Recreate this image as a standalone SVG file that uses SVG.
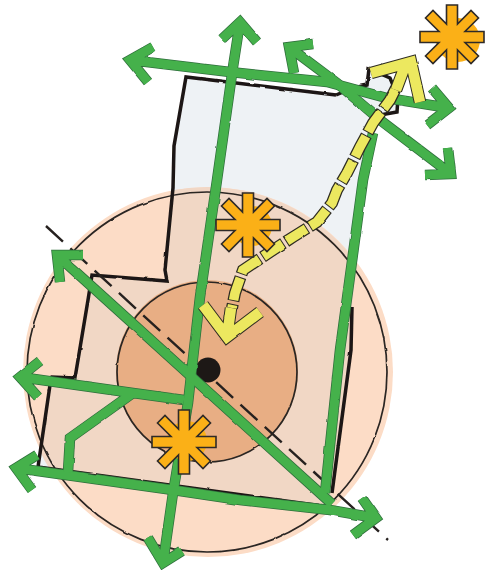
<svg xmlns="http://www.w3.org/2000/svg" xmlns:xlink="http://www.w3.org/1999/xlink" width="489" height="570" viewBox="0 0 489 570">
<style>
.blk{fill:none;stroke:#1d1613;stroke-width:3.5;stroke-linejoin:miter}
.thin{fill:none;stroke:#2a2523;stroke-width:1.7}
.gu{fill:none;stroke:#2f6e3c;stroke-width:10.5;stroke-linejoin:miter}
.g{fill:none;stroke:#45b14b;stroke-width:9;stroke-linejoin:miter}
.star{fill:#fbb017;stroke:#2e2a28;stroke-width:1.6;stroke-linejoin:miter}
.blob{fill:#fbb017}
.yu{fill:none;stroke:#2e2c22;stroke-width:12;stroke-linejoin:miter}
.y{fill:none;stroke:#ece85f;stroke-width:9.5;stroke-linejoin:miter}
.yw{fill:none;stroke:#2e2c22;stroke-width:12.5;stroke-linejoin:miter}
.yv{fill:none;stroke:#ece85f;stroke-width:10.5;stroke-linejoin:miter}
.ds{stroke-dasharray:25 3}
.dt{stroke-dasharray:23 5;stroke-dashoffset:-1}
</style>
<defs>
<filter id="rough" x="-5%" y="-5%" width="110%" height="110%">
<feTurbulence type="fractalNoise" baseFrequency="0.07" numOctaves="2" seed="4"/>
<feDisplacementMap in="SourceGraphic" scale="2" xChannelSelector="R" yChannelSelector="G"/>
<feGaussianBlur stdDeviation="0.35"/>
</filter>
<clipPath id="siteClip"><path id="sitePoly" d="M186,77L336,95L353,88L367,85L369,69L390,78L398,97L397,112L380,115L372,133L352,307L351,350L332,493L330,507L38,467L50,385L52,377L75,378L88,300L92,275L167,281L165,270L173,188L174,146Z"/></clipPath>
<polygon id="s" points="32,-5.5 32,5.5 13,5.5 26.5,19 19,26.5 5.5,13 5.5,32 -5.5,32 -5.5,13 -19,26.5 -26.5,19 -13,5.5 -32,5.5 -32,-5.5 -13,-5.5 -26.5,-19 -19,-26.5 -5.5,-13 -5.5,-32 5.5,-32 5.5,-13 19,-26.5 26.5,-19 13,-5.5"/>
<path id="a1" d="M240,22L233,67L217,180L200,297L192,367L188,403L173,493L163,563M222,39L240,22L257,42M148,538L163,563L182,551"/>
<path id="a2" d="M130,60L230,72L327,82L387,98L449,108M153,47L130,60L148,82M432,88L449,108L427,125"/>
<path id="a3" d="M289,47L337,83L380,120L451,174M313,44L289,47L294,73M448,148L451,174L425,175"/>
<path id="a4" d="M373,133L363,180L340,350L325,493"/>
<path id="a5" d="M57,255L332,504M83,255L57,255L60,282"/>
<path id="a6" d="M16,468L173,490L240,500L330,510L376,518M37,455L16,468L32,490M362,498L376,518L353,535"/>
<path id="a7" d="M20,377L133,393L184,400M40,361L20,377L38,397M133,393L70,438L68,472"/>
<path id="yarrow1" d="M371,73L411,62L420,102M405,66L396,90"/>
<path id="yarrow2" d="M203,305L227,337L260,312M231,308L227,337"/>
<path id="yshaft" d="M396,88L390,100L373,123L360,147L347,173L337,190L332,203L317,222L293,237L270,252L243,270L235,293L232,308"/>
</defs>

<g id="site-fill"><use xlink:href="#sitePoly" fill="#eef2f5"/></g>

<g id="outer-zone">
<circle cx="208" cy="372" r="185" fill="#fcdcc6"/>
<circle cx="207" cy="372" r="185" fill="#f1d7c5" clip-path="url(#siteClip)"/>
<circle cx="207" cy="372" r="180" class="thin" filter="url(#rough)"/>
</g>

<g id="inner-zone">
<circle cx="207" cy="371" r="91" fill="#e8ae84"/>
<circle cx="207" cy="372" r="90" class="thin" filter="url(#rough)"/>
</g>

<g id="site-outline" filter="url(#rough)">
<path class="blk" d="M336,95L186,77L174,146L173,188L165,270L167,281L92,275L88,300L75,378L52,377L50,385L38,467L330,507"/>
<path class="blk" d="M336,95L353,88L367,85L369,69L390,78L398,97L397,112L380,115"/>
<path class="blk" d="M352,307L351,350L332,493"/>
</g>

<g id="axis"><path d="M46,226L388,540" fill="none" stroke="#26211f" stroke-width="2.4" stroke-dasharray="23 10"/></g>

<g id="centre"><circle cx="208" cy="370" r="12.5" fill="#1d1816"/></g>

<g id="connectors" filter="url(#rough)">
<use xlink:href="#a1" class="gu"/><use xlink:href="#a2" class="gu"/><use xlink:href="#a3" class="gu"/><use xlink:href="#a4" class="gu"/><use xlink:href="#a5" class="gu"/><use xlink:href="#a6" class="gu"/><use xlink:href="#a7" class="gu"/>
<use xlink:href="#a1" class="g"/><use xlink:href="#a2" class="g"/><use xlink:href="#a3" class="g"/><use xlink:href="#a4" class="g"/><use xlink:href="#a5" class="g"/><use xlink:href="#a6" class="g"/><use xlink:href="#a7" class="g"/>
</g>

<g id="sun-arrow" filter="url(#rough)">
<use xlink:href="#yshaft" class="yu ds"/>
<use xlink:href="#yshaft" class="y dt"/>
<use xlink:href="#yarrow1" class="yw"/><use xlink:href="#yarrow1" class="yv"/>
<use xlink:href="#yarrow2" class="yw"/><use xlink:href="#yarrow2" class="yv"/>
</g>

<g id="sun-top"><circle cx="458" cy="40" r="22" class="blob"/><use xlink:href="#s" x="452" y="37" class="star"/></g>
<g id="sun-middle"><circle cx="252" cy="226" r="20" class="blob"/><use xlink:href="#s" x="248" y="225" class="star"/></g>
<g id="sun-bottom"><circle cx="187" cy="441" r="20" class="blob"/><use xlink:href="#s" x="184" y="442" class="star"/></g>
</svg>
